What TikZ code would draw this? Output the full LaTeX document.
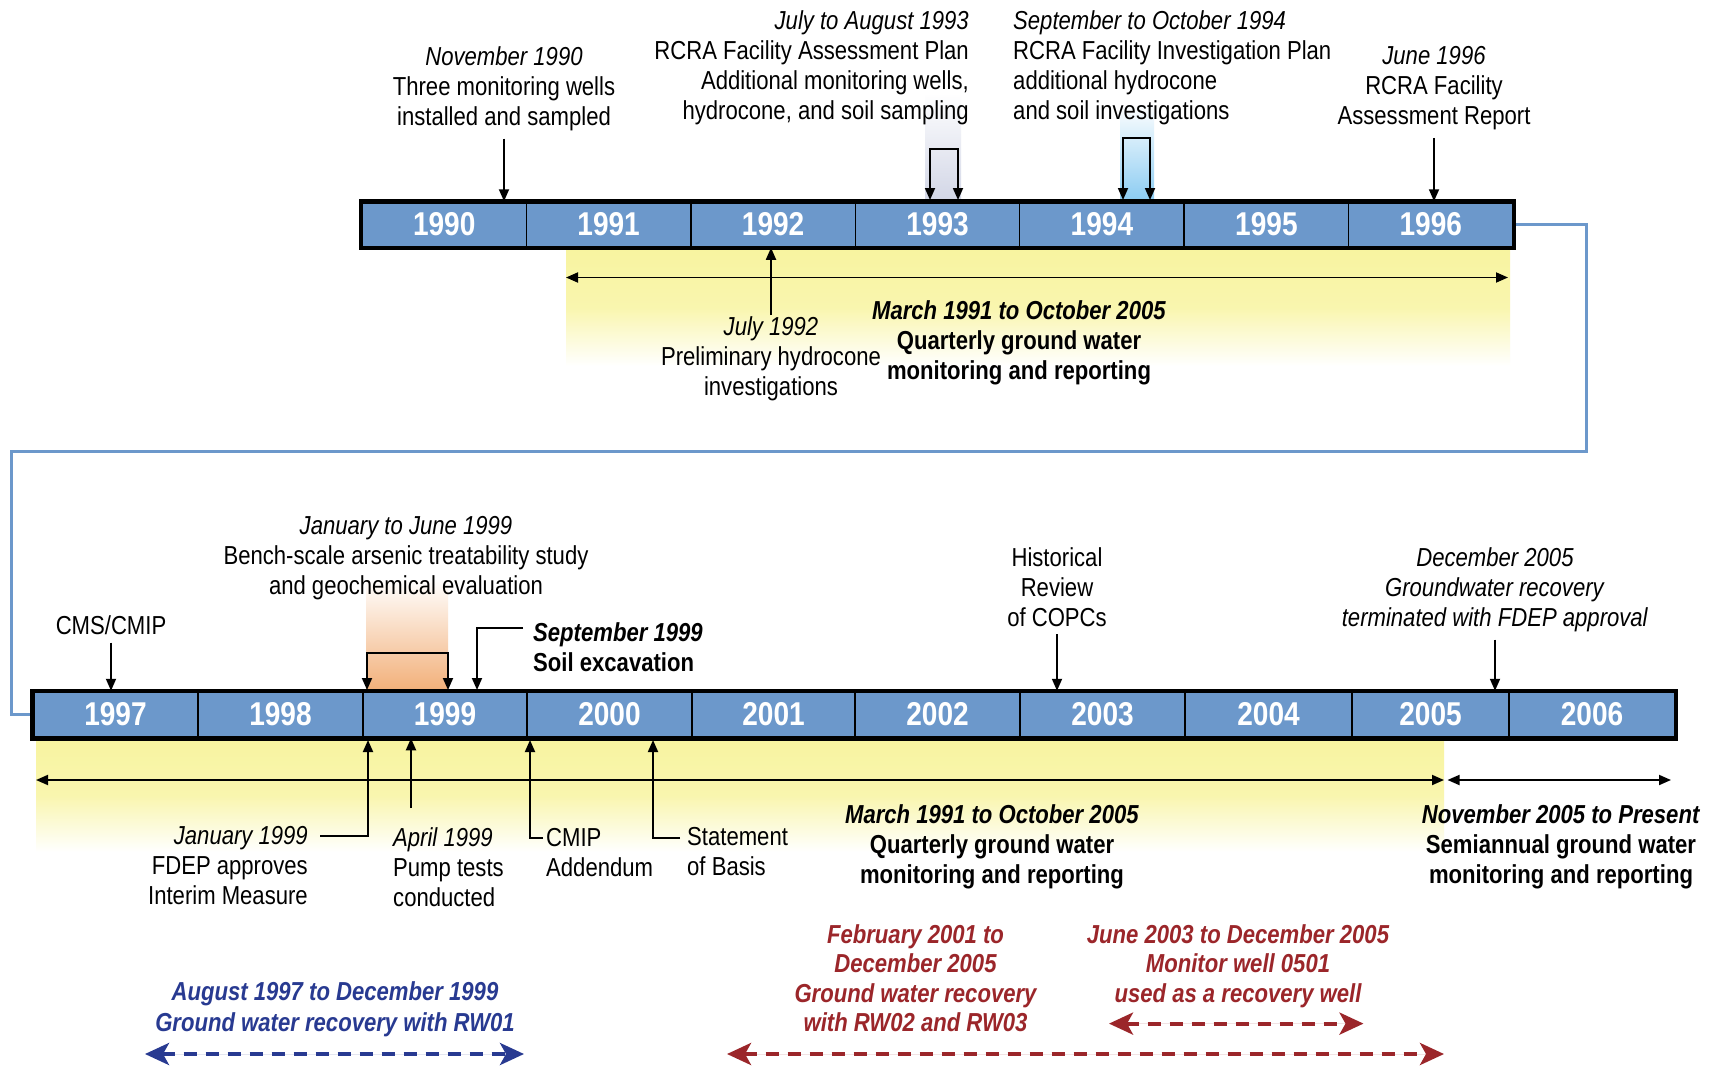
\documentclass[tikz,border=0pt]{standalone}
\usepackage{fontspec}
\setmainfont[FakeStretch=0.85]{Liberation Sans}
\usetikzlibrary{arrows.meta}
\definecolor{barblue}{RGB}{108,152,203}
\definecolor{linkblue}{RGB}{108,152,203}
\definecolor{bandyellow}{RGB}{248,244,160}
\definecolor{navy}{RGB}{40,58,145}
\definecolor{darkred}{RGB}{155,38,42}
\definecolor{greyshade}{RGB}{210,214,230}
\definecolor{skyshade}{RGB}{140,204,242}
\definecolor{orangeshade}{RGB}{242,176,122}
\begin{document}
\begin{tikzpicture}[x=1pt,y=-1pt,
  txt/.style={font=\fontsize{26}{30}\selectfont, inner sep=0pt, align=center},
  cell/.style={draw=black, line width=1.5pt, fill=barblue, text=white,
    font=\fontsize{33}{33}\selectfont\bfseries, inner sep=0pt},
  arr/.style={line width=1.8pt, -{Triangle[length=12pt,width=10pt]}},
  barr/.style={line width=1.8pt, {Triangle[length=12pt,width=10pt]}-{Triangle[length=12pt,width=10pt]}},
  darr/.style={line width=4pt, dash pattern=on 13pt off 9pt,
    {Stealth[length=24pt,width=22pt,inset=6pt]}-{Stealth[length=24pt,width=22pt,inset=6pt]}},
  link/.style={draw=linkblue, line width=3pt},
  frame/.style={draw=black, line width=4.5pt}
]
\useasboundingbox[fill=white] (0,0) rectangle (1713,1070);

% ---- background shadings ----
\shade[top color=bandyellow, bottom color=white, middle color=bandyellow!85!white] (566,249) rectangle (1510,366);
\shade[top color=bandyellow, bottom color=white, middle color=bandyellow!85!white] (36,739) rectangle (1444,852);
\shade[top color=white, bottom color=greyshade] (925,93) rectangle (961,200);
\shade[top color=white, bottom color=skyshade] (1120,104) rectangle (1154,200);
\shade[top color=white, bottom color=orangeshade] (366,579) rectangle (448,690);

% ---- link between the two bars ----
\coordinate (c1) at (1586,451);
\coordinate (c2) at (11,451);

% ---- top bar ----
\begin{scope}[every node/.style={cell, minimum height=45pt, minimum width=164.43pt}]
\node (y1990) at (444.2,224.5) {1990};
\node (y1991) at (608.6,224.5) {1991};
\node (y1992) at (773.1,224.5) {1992};
\node (y1993) at (937.5,224.5) {1993};
\node (y1994) at (1101.9,224.5) {1994};
\node (y1995) at (1266.4,224.5) {1995};
\node (y1996) at (1430.8,224.5) {1996};
\end{scope}

% ---- bottom bar ----
\begin{scope}[every node/.style={cell, minimum height=46pt}]
\node[minimum width=165pt] (y1997) at (115.5,714.5) {1997};
\node[minimum width=165pt] (y1998) at (280.5,714.5) {1998};
\node[minimum width=164pt] (y1999) at (445,714.5) {1999};
\node[minimum width=165pt] (y2000) at (609.5,714.5) {2000};
\node[minimum width=163pt] (y2001) at (773.5,714.5) {2001};
\node[minimum width=165pt] (y2002) at (937.5,714.5) {2002};
\node[minimum width=165pt] (y2003) at (1102.5,714.5) {2003};
\node[minimum width=167pt] (y2004) at (1268.5,714.5) {2004};
\node[minimum width=157pt] (y2005) at (1430.5,714.5) {2005};
\node[minimum width=166pt] (y2006) at (1592,714.5) {2006};
\end{scope}

\draw[link] (y1996.east) -| (c1) -- (c2) |- (y1997.west);
\draw[frame] (y1990.north west) rectangle (y1996.south east);
\draw[frame] (y1997.north west) rectangle (y2006.south east);

% ---- top events ----
\node[txt, anchor=north] (nov90) at (504,46)
  {\textit{November 1990}\\Three monitoring wells\\installed and sampled};
\draw[arr, shorten <=8pt] (nov90.south) -- (nov90.south |- y1990.north);

\node[txt, anchor=north east, align=right] (jul93) at (969,10)
  {\textit{July to August 1993}\\RCRA Facility Assessment Plan\\Additional monitoring wells,\\hydrocone, and soil sampling};
\coordinate (b93a) at (930,200);
\coordinate (b93m) at (944,149);
\coordinate (b93b) at (958,200);
\draw[barr] (b93a) |- (b93m) -| (b93b);

\node[txt, anchor=north west, align=left] (sep94) at (1013,10)
  {\textit{September to October 1994}\\RCRA Facility Investigation Plan\\additional hydrocone\\and soil investigations};
\coordinate (b94a) at (1123,200);
\coordinate (b94m) at (1136,138);
\coordinate (b94b) at (1150,200);
\draw[barr] (b94a) |- (b94m) -| (b94b);

\node[txt, anchor=north] (jun96) at (1434,46)
  {\textit{June 1996}\\RCRA Facility\\Assessment Report};
\draw[arr, shorten <=8pt] (jun96.south) -- (jun96.south |- y1996.north);

% ---- below top bar ----
\coordinate (ta1) at (566,277.5);
\coordinate (ta2) at (1508,277.5);
\draw[barr] (ta1) -- (ta2);

\node[txt, anchor=north] (jul92) at (771,316)
  {\textit{July 1992}\\Preliminary hydrocone\\investigations};
\draw[arr, shorten <=1pt] (jul92.north) -- (jul92.north |- y1992.south);

\node[txt, anchor=north] (mar1) at (1019,300)
  {\textbf{\textit{March 1991 to October 2005}}\\\textbf{Quarterly ground water}\\\textbf{monitoring and reporting}};

% ---- above bottom bar ----
\node[txt, anchor=north] (cms) at (111,615) {CMS/CMIP};
\draw[arr, shorten <=8pt] (cms.south) -- (cms.south |- y1997.north);

\node[txt, anchor=north] (jj99) at (406,516)
  {\textit{January to June 1999}\\Bench-scale arsenic treatability study\\and geochemical evaluation};
\coordinate (b99a) at (367,690);
\coordinate (b99m) at (407,653);
\coordinate (b99b) at (448,690);
\draw[barr] (b99a) |- (b99m) -| (b99b);

\node[txt, anchor=north west, align=left] (sep99) at (533,622)
  {\textbf{\textit{September 1999}}\\\textbf{Soil excavation}};
\coordinate (s99a) at (523,628);
\coordinate (s99b) at (477,690);
\draw[arr] (s99a) -| (s99b);

\node[txt, anchor=north] (hist) at (1057,547) {Historical\\Review\\of COPCs};
\draw[arr, shorten <=8pt] (hist.south) -- (hist.south |- y2003.north);

\node[txt, anchor=north] (dec05) at (1495,547)
  {\textit{December 2005}\\\textit{Groundwater recovery}\\\textit{terminated with FDEP approval}};
\draw[arr, shorten <=8pt] (dec05.south) -- (dec05.south |- y2005.north);

% ---- below bottom bar ----
\coordinate (ba1) at (36,780);
\coordinate (ba2) at (1444,780);
\coordinate (ba3) at (1447.5,780);
\coordinate (ba4) at (1671,780);
\draw[barr] (ba1) -- (ba2);
\draw[barr] (ba3) -- (ba4);

\node[txt, anchor=north east, align=right] (jan99) at (308,826)
  {\textit{January 1999}\\FDEP approves\\Interim Measure};
\coordinate (j99a) at (320,836);
\coordinate (j99b) at (368,740);
\draw[arr] (j99a) -| (j99b);

\node[txt, anchor=north west, align=left] (apr99) at (393,827)
  {\textit{April 1999}\\Pump tests\\conducted};
\coordinate (a99) at (411,808);
\draw[arr] (a99) -- (a99 |- y1999.south);

\node[txt, anchor=north west, align=left] (cmip) at (546,828) {CMIP\\Addendum};
\coordinate (cm1) at (543,838);
\coordinate (cm2) at (530,740);
\draw[arr] (cm1) -| (cm2);

\node[txt, anchor=north west, align=left] (sob) at (687,827) {Statement\\of Basis};
\coordinate (sb1) at (680,838);
\coordinate (sb2) at (653,740);
\draw[arr] (sb1) -| (sb2);

\node[txt, anchor=north] (mar2) at (992,804)
  {\textbf{\textit{March 1991 to October 2005}}\\\textbf{Quarterly ground water}\\\textbf{monitoring and reporting}};

\node[txt, anchor=north] (nov05) at (1561,804)
  {\textbf{\textit{November 2005 to Present}}\\\textbf{Semiannual ground water}\\\textbf{monitoring and reporting}};

% ---- recovery periods ----
\node[txt, anchor=north, text=navy, font=\fontsize{26}{31}\selectfont\bfseries\itshape] (aug97) at (335,981)
  {August 1997 to December 1999\\Ground water recovery with RW01};
\coordinate (r1a) at (145,1054);
\coordinate (r1b) at (524,1054);
\draw[darr, draw=navy, fill=navy] (r1a) -- (r1b);

\node[txt, anchor=north, text=darkred, font=\fontsize{26}{29.5}\selectfont\bfseries\itshape] (feb01) at (915.5,924)
  {February 2001 to\\December 2005\\Ground water recovery\\with RW02 and RW03};
\coordinate (r2a) at (727,1054);
\coordinate (r2b) at (1444,1054);
\draw[darr, draw=darkred, fill=darkred] (r2a) -- (r2b);

\node[txt, anchor=north, text=darkred, font=\fontsize{26}{29.5}\selectfont\bfseries\itshape] (jun03) at (1238,924)
  {June 2003 to December 2005\\Monitor well 0501\\used as a recovery well};
\coordinate (r3a) at (1109,1023.6);
\coordinate (r3b) at (1363.5,1023.6);
\draw[darr, draw=darkred, fill=darkred] (r3a) -- (r3b);

\end{tikzpicture}
\end{document}
